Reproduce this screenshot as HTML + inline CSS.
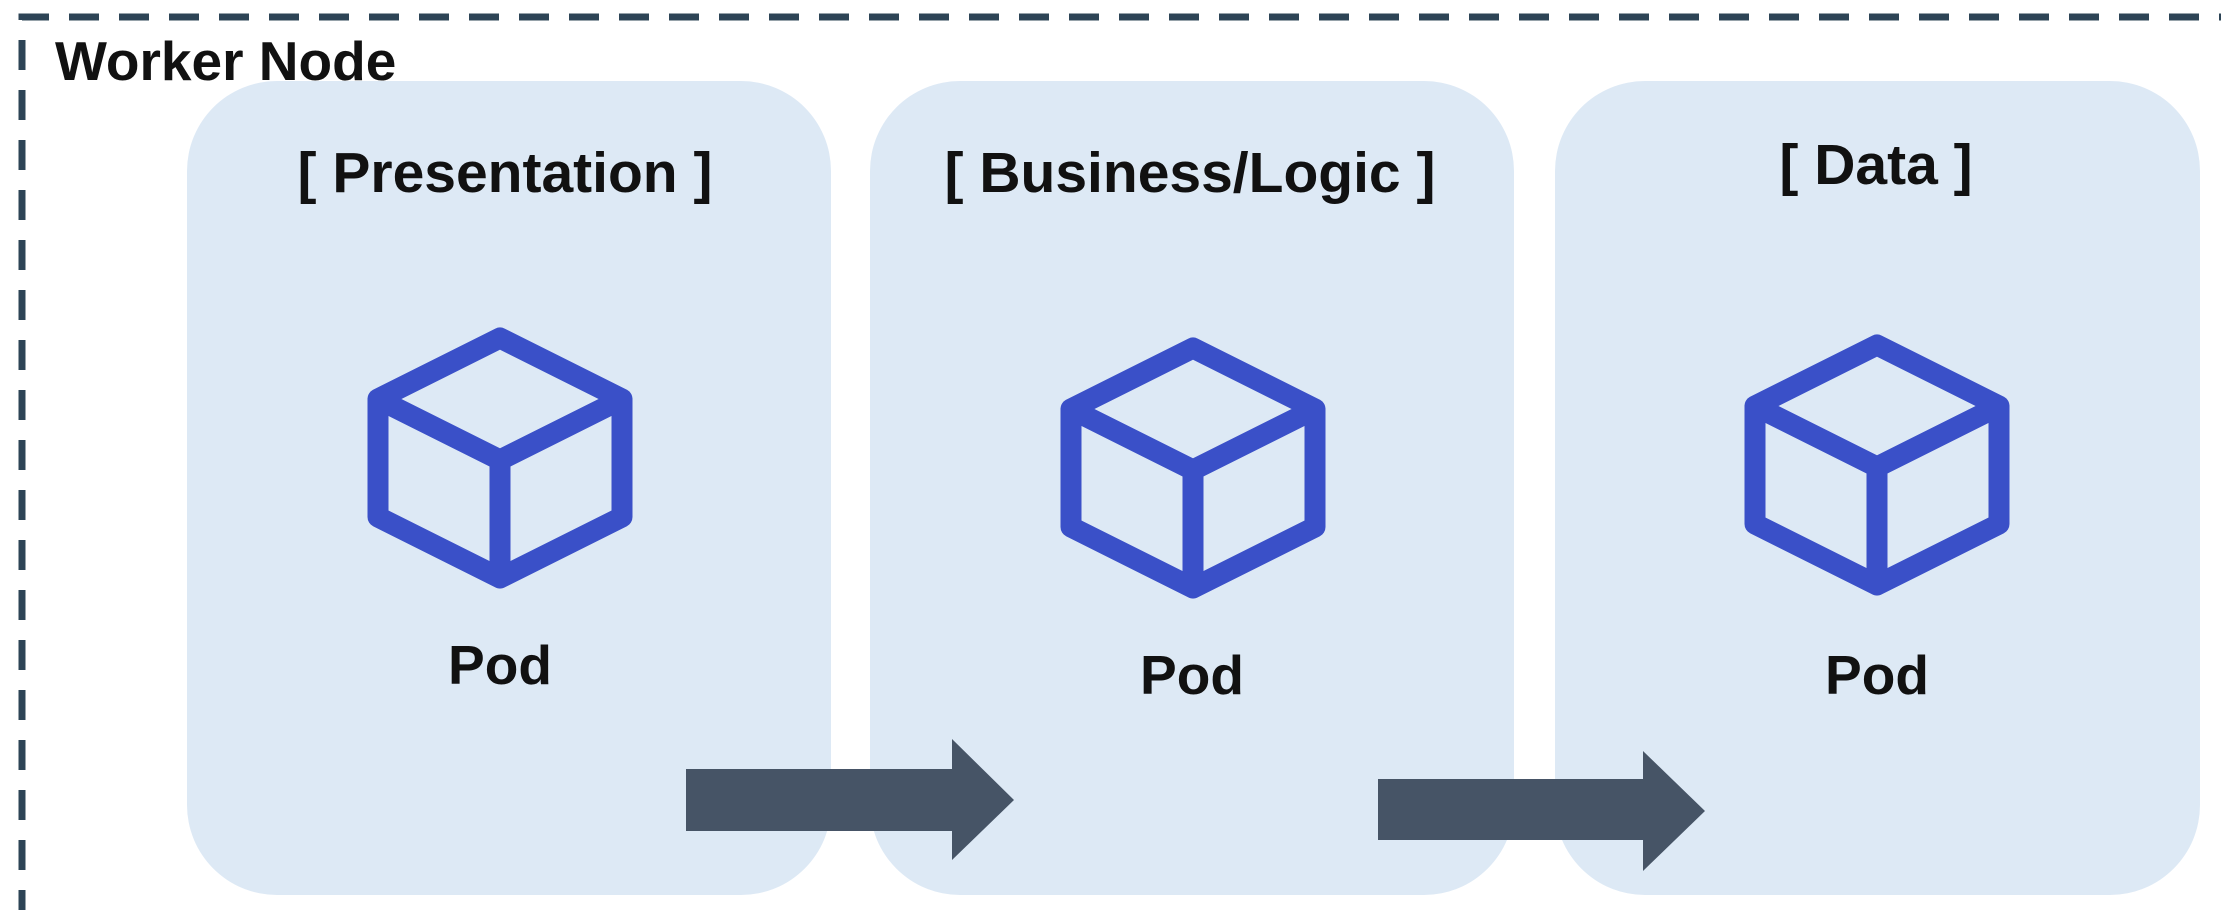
<!DOCTYPE html>
<html><head><style>
html,body{margin:0;padding:0;background:#fff;width:2221px;height:910px;overflow:hidden;font-family:"Liberation Sans",sans-serif;}
</style></head><body>
<svg width="2221" height="910" xmlns="http://www.w3.org/2000/svg" style="position:absolute;left:0;top:0">
<defs>
<g id="cube">
<path d="M133 11 L255 72 L255 190 L133 251 L11 190 L11 72 Z M11 72 L133 133 L255 72 M133 133 L133 251" fill="none" stroke="#3a50c8" stroke-width="21" stroke-linejoin="round" stroke-linecap="round"/>
</g>
</defs>
<path d="M22 920 L22 17 L2221 17" fill="none" stroke="#2d4456" stroke-width="7" stroke-dasharray="30 20"/>
<text x="55" y="80" font-size="55" font-weight="bold" fill="#111">Worker Node</text>
<rect x="187" y="81" width="644" height="814" rx="90" fill="#dde9f5"/>
<rect x="870" y="81" width="644" height="814" rx="90" fill="#dde9f5"/>
<rect x="1555" y="81" width="645" height="814" rx="90" fill="#dde9f5"/>
<g font-size="57" font-weight="bold" fill="#111" text-anchor="middle">
<text x="505" y="192">[ Presentation ]</text>
<text x="1190" y="192">[ Business/Logic ]</text>
<text x="1876" y="184">[ Data ]</text>
</g>
<g font-size="55" font-weight="bold" fill="#111" text-anchor="middle">
<text x="500" y="684">Pod</text>
<text x="1192" y="694">Pod</text>
<text x="1877" y="694">Pod</text>
</g>
<use href="#cube" x="367" y="327"/>
<use href="#cube" x="1060" y="337"/>
<use href="#cube" x="1744" y="334"/>
<path d="M686 769 L952 769 L952 739 L1014 800 L952 860 L952 831 L686 831 Z" fill="#465466"/>
<path d="M1378 779 L1643 779 L1643 751 L1705 811 L1643 871 L1643 840 L1378 840 Z" fill="#465466"/>
</svg>
</body></html>
